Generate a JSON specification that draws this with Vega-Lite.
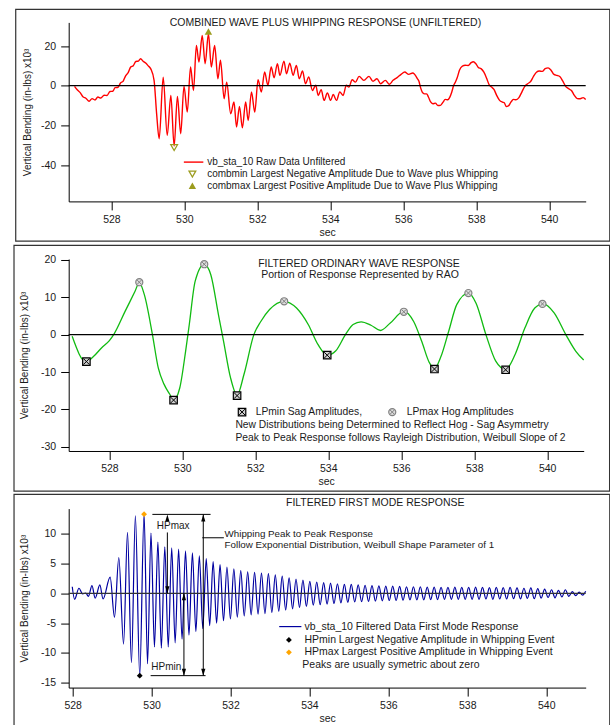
{
"$schema":"https://vega.github.io/schema/vega-lite/v6.json",
"padding":{"left":12.7,"top":8.4,"right":0,"bottom":0},
"background":"white",
"bounds":"flush",
"spacing":57.6,
"config":{
 "font":"Liberation Sans",
 "locale":{"number":{"decimal":".","thousands":",","grouping":[3],"currency":["$",""],"minus":"-"}},
 "view":{"stroke":null},
 "axis":{"grid":false,"labelOverlap":false,"labelBound":false,"tickCount":20,"domainColor":"#000000","tickColor":"#000000","labelColor":"#1a1a1a","titleColor":"#1a1a1a","labelFontSize":10.5,"titleFontSize":10.5,"titleFontWeight":"normal","tickSize":8,"labelPadding":5,"domainWidth":1,"tickWidth":1},
 "axisX":{"tickSize":8.5,"labelPadding":4.5,"titlePadding":2.5},
 "axisY":{"titleFontSize":10},
 "text":{"color":"#1a1a1a","fontSize":10.5}
},
"datasets":{
 "raw":[{"t":526.99,"v":-0.3},{"t":527.07,"v":-2.2},{"t":527.15,"v":-3.6},{"t":527.22,"v":-5.6},{"t":527.30,"v":-6.3},{"t":527.39,"v":-7.8},{"t":527.47,"v":-6.5},{"t":527.55,"v":-7.2},{"t":527.63,"v":-5.7},{"t":527.71,"v":-6.2},{"t":527.80,"v":-4.8},{"t":527.88,"v":-4.9},{"t":527.96,"v":-2.9},{"t":528.04,"v":-2.8},{"t":528.10,"v":-1.0},{"t":528.18,"v":-0.8},{"t":528.25,"v":1.4},{"t":528.32,"v":2.2},{"t":528.39,"v":5.0},{"t":528.46,"v":6.6},{"t":528.53,"v":9.4},{"t":528.60,"v":10.1},{"t":528.67,"v":12.2},{"t":528.74,"v":12.4},{"t":528.80,"v":13.6},{"t":528.87,"v":12.3},{"t":528.94,"v":11.4},{"t":529.01,"v":10.0},{"t":529.08,"v":8.5},{"t":529.17,"v":2.7},{"t":529.24,"v":-14.1},{"t":529.31,"v":-26.7},{"t":529.42,"v":4.3},{"t":529.53,"v":-25.0},{"t":529.63,"v":-4.9},{"t":529.72,"v":-30.4},{"t":529.81,"v":-5.4},{"t":529.90,"v":-24.2},{"t":529.99,"v":-0.2},{"t":530.08,"v":-13.3},{"t":530.17,"v":9.4},{"t":530.25,"v":-2.4},{"t":530.33,"v":20.3},{"t":530.40,"v":11.9},{"t":530.49,"v":25.3},{"t":530.57,"v":11.1},{"t":530.66,"v":26.2},{"t":530.74,"v":9.4},{"t":530.83,"v":20.3},{"t":530.92,"v":3.5},{"t":530.99,"v":12.8},{"t":531.09,"v":-6.6},{"t":531.16,"v":1.8},{"t":531.27,"v":-14.1},{"t":531.36,"v":-8.2},{"t":531.43,"v":-20.8},{"t":531.51,"v":-10.4},{"t":531.59,"v":-21.2},{"t":531.68,"v":-8.2},{"t":531.75,"v":-17.5},{"t":531.84,"v":-3.2},{"t":531.93,"v":-13.3},{"t":532.02,"v":3.0},{"t":532.11,"v":-3.2},{"t":532.20,"v":6.9},{"t":532.29,"v":0.2},{"t":532.38,"v":9.4},{"t":532.46,"v":4.0},{"t":532.55,"v":11.1},{"t":532.62,"v":5.2},{"t":532.73,"v":12.4},{"t":532.80,"v":6.0},{"t":532.89,"v":11.4},{"t":532.98,"v":5.2},{"t":533.07,"v":10.2},{"t":533.15,"v":3.5},{"t":533.24,"v":7.4},{"t":533.32,"v":1.0},{"t":533.41,"v":4.4},{"t":533.51,"v":-2.4},{"t":533.60,"v":0.2},{"t":533.67,"v":-4.9},{"t":533.75,"v":-2.0},{"t":533.83,"v":-7.4},{"t":533.92,"v":-3.7},{"t":534.01,"v":-7.4},{"t":534.08,"v":-4.4},{"t":534.17,"v":-7.4},{"t":534.26,"v":-3.2},{"t":534.35,"v":-4.9},{"t":534.44,"v":0.2},{"t":534.51,"v":-0.7},{"t":534.60,"v":3.0},{"t":534.69,"v":1.8},{"t":534.79,"v":4.7},{"t":534.92,"v":2.7},{"t":535.06,"v":4.7},{"t":535.17,"v":2.2},{"t":535.28,"v":3.5},{"t":535.38,"v":1.0},{"t":535.51,"v":2.7},{"t":535.62,"v":0.7},{"t":535.72,"v":2.7},{"t":535.83,"v":4.1},{"t":535.94,"v":5.7},{"t":536.04,"v":6.9},{"t":536.15,"v":5.7},{"t":536.26,"v":6.4},{"t":536.39,"v":3.5},{"t":536.43,"v":2.2},{"t":536.47,"v":-0.7},{"t":536.52,"v":-3.2},{"t":536.58,"v":-4.1},{"t":536.64,"v":-4.1},{"t":536.69,"v":-5.7},{"t":536.75,"v":-8.2},{"t":536.81,"v":-9.1},{"t":536.88,"v":-8.8},{"t":536.95,"v":-10.0},{"t":537.02,"v":-9.9},{"t":537.09,"v":-8.3},{"t":537.15,"v":-6.9},{"t":537.22,"v":-7.1},{"t":537.27,"v":-6.0},{"t":537.33,"v":-3.2},{"t":537.38,"v":0.1},{"t":537.43,"v":1.9},{"t":537.48,"v":4.1},{"t":537.54,"v":7.8},{"t":537.62,"v":9.9},{"t":537.70,"v":10.3},{"t":537.78,"v":10.2},{"t":537.86,"v":11.6},{"t":537.92,"v":12.1},{"t":537.99,"v":11.1},{"t":538.06,"v":9.1},{"t":538.13,"v":8.6},{"t":538.21,"v":6.8},{"t":538.29,"v":3.5},{"t":538.35,"v":0.6},{"t":538.42,"v":-0.7},{"t":538.49,"v":-2.0},{"t":538.56,"v":-4.9},{"t":538.64,"v":-7.4},{"t":538.72,"v":-8.3},{"t":538.77,"v":-8.6},{"t":538.82,"v":-10.5},{"t":538.88,"v":-10.2},{"t":538.95,"v":-8.3},{"t":539.02,"v":-6.9},{"t":539.09,"v":-7.1},{"t":539.17,"v":-6.0},{"t":539.25,"v":-3.2},{"t":539.33,"v":-0.3},{"t":539.41,"v":1.0},{"t":539.49,"v":2.1},{"t":539.57,"v":4.7},{"t":539.65,"v":6.8},{"t":539.73,"v":7.4},{"t":539.81,"v":7.2},{"t":539.89,"v":8.6},{"t":539.97,"v":9.0},{"t":540.05,"v":7.8},{"t":540.13,"v":5.7},{"t":540.21,"v":5.2},{"t":540.29,"v":4.6},{"t":540.37,"v":2.4},{"t":540.45,"v":-0.3},{"t":540.53,"v":-1.5},{"t":540.61,"v":-2.4},{"t":540.69,"v":-4.9},{"t":540.77,"v":-6.5},{"t":540.85,"v":-6.6},{"t":540.93,"v":-6.0},{"t":541.0,"v":-6.9}],
 "comb":[{"t":529.72,"v":-31.2,"k":"min"},{"t":530.66,"v":27.3,"k":"max"}],
 "wave":[{"t":526.98,"v":-0.45},{"t":527.36,"v":-7.3},{"t":527.57,"v":-5.8},{"t":527.79,"v":-3.5},{"t":528.0,"v":-1.6},{"t":528.13,"v":0.2},{"t":528.43,"v":6.2},{"t":528.7,"v":11.5},{"t":528.82,"v":13.9},{"t":528.96,"v":10.6},{"t":529.18,"v":0},{"t":529.34,"v":-8.9},{"t":529.5,"v":-13.3},{"t":529.66,"v":-16},{"t":529.76,"v":-17.5},{"t":529.93,"v":-14.2},{"t":530.09,"v":-4.4},{"t":530.19,"v":2.7},{"t":530.35,"v":14.2},{"t":530.6,"v":18.8},{"t":530.78,"v":16},{"t":530.99,"v":5.3},{"t":531.13,"v":-1.8},{"t":531.32,"v":-11.5},{"t":531.5,"v":-16.2},{"t":531.69,"v":-10.6},{"t":531.96,"v":0},{"t":532.15,"v":3.5},{"t":532.39,"v":6.7},{"t":532.79,"v":8.9},{"t":533.13,"v":7.1},{"t":533.45,"v":2.7},{"t":533.72,"v":-2.7},{"t":533.97,"v":-5.5},{"t":534.2,"v":-4.4},{"t":534.47,"v":0},{"t":534.68,"v":2.7},{"t":534.9,"v":3.4},{"t":535.17,"v":2.5},{"t":535.43,"v":1.1},{"t":535.7,"v":3.1},{"t":536.07,"v":6.2},{"t":536.34,"v":3.5},{"t":536.56,"v":-1.8},{"t":536.77,"v":-7.5},{"t":536.91,"v":-9.1},{"t":537.09,"v":-5.8},{"t":537.3,"v":0.9},{"t":537.52,"v":8},{"t":537.84,"v":11.1},{"t":538.05,"v":8.4},{"t":538.32,"v":0},{"t":538.59,"v":-7.1},{"t":538.86,"v":-9.3},{"t":539.12,"v":-5.3},{"t":539.39,"v":1.8},{"t":539.66,"v":7.1},{"t":539.89,"v":8.2},{"t":540.19,"v":5.8},{"t":540.51,"v":0},{"t":540.78,"v":-4.4},{"t":541.0,"v":-6.8}],
 "lpmin":[{"t":527.37,"v":-7.2},{"t":529.76,"v":-17.5},{"t":531.5,"v":-16.3},{"t":533.97,"v":-5.5},{"t":536.91,"v":-9.2},{"t":538.86,"v":-9.4}],
 "lpmax":[{"t":528.82,"v":14.0},{"t":530.6,"v":18.8},{"t":532.79,"v":8.9},{"t":536.07,"v":6.1},{"t":537.84,"v":11.1},{"t":539.87,"v":8.2}],
 "whip":[{"t":527.99,"v":1.1},{"t":528.05,"v":-1.0},{"t":528.16,"v":0.85},{"t":528.25,"v":-0.1},{"t":528.33,"v":0.05},{"t":528.40,"v":-0.5},{"t":528.49,"v":1.3},{"t":528.57,"v":-0.8},{"t":528.69,"v":1.4},{"t":528.77,"v":-0.95},{"t":528.95,"v":2.7},{"t":529.06,"v":-4.0},{"t":529.17,"v":6.0},{"t":529.29,"v":-8.5},{"t":529.39,"v":10.2},{"t":529.49,"v":-11.6},{"t":529.59,"v":13.0},{"t":529.70,"v":-13.8},{"t":529.81,"v":13.3},{"t":529.8975,"v":-11.8},{"t":529.985,"v":10.1},{"t":530.0725,"v":-9.0},{"t":530.16,"v":8.6},{"t":530.2475,"v":-9.2},{"t":530.335,"v":7.8},{"t":530.4225,"v":-9.0},{"t":530.51,"v":7.6},{"t":530.5975,"v":-8.3},{"t":530.685,"v":7.4},{"t":530.7725,"v":-7.7},{"t":530.86,"v":7.1},{"t":530.9475,"v":-7.0},{"t":531.035,"v":6.8},{"t":531.1225,"v":-6.4},{"t":531.21,"v":6.3},{"t":531.2975,"v":-5.9},{"t":531.385,"v":5.8},{"t":531.4725,"v":-5.4},{"t":531.56,"v":5.3},{"t":531.6475,"v":-5.0},{"t":531.735,"v":4.8},{"t":531.8225,"v":-4.6},{"t":531.91,"v":4.4},{"t":531.9975,"v":-4.3},{"t":532.085,"v":4.1},{"t":532.1725,"v":-4.0},{"t":532.26,"v":3.8},{"t":532.3475,"v":-3.8},{"t":532.435,"v":3.6},{"t":532.5225,"v":-3.6},{"t":532.61,"v":3.5},{"t":532.6975,"v":-3.5},{"t":532.785,"v":3.4},{"t":532.8725,"v":-3.4},{"t":532.96,"v":3.3},{"t":533.0475,"v":-3.2},{"t":533.135,"v":3.1},{"t":533.2225,"v":-3.0},{"t":533.31,"v":2.9},{"t":533.3975,"v":-2.8},{"t":533.485,"v":2.6},{"t":533.5725,"v":-2.6},{"t":533.66,"v":2.4},{"t":533.7475,"v":-2.4},{"t":533.835,"v":2.2},{"t":533.9225,"v":-2.2},{"t":534.01,"v":2.0},{"t":534.0975,"v":-2.0},{"t":534.185,"v":1.9},{"t":534.2725,"v":-1.9},{"t":534.36,"v":1.8},{"t":534.4475,"v":-1.8},{"t":534.535,"v":1.7},{"t":534.6225,"v":-1.7},{"t":534.71,"v":1.6},{"t":534.7975,"v":-1.6},{"t":534.885,"v":1.5},{"t":534.9725,"v":-1.5},{"t":535.06,"v":1.5},{"t":535.1475,"v":-1.45},{"t":535.235,"v":1.4},{"t":535.3225,"v":-1.4},{"t":535.41,"v":1.35},{"t":535.4975,"v":-1.35},{"t":535.585,"v":1.3},{"t":535.6725,"v":-1.3},{"t":535.76,"v":1.25},{"t":535.8475,"v":-1.25},{"t":535.935,"v":1.2},{"t":536.0225,"v":-1.2},{"t":536.11,"v":1.2},{"t":536.1975,"v":-1.2},{"t":536.285,"v":1.15},{"t":536.3725,"v":-1.15},{"t":536.46,"v":1.1},{"t":536.5475,"v":-1.1},{"t":536.635,"v":1.1},{"t":536.7225,"v":-1.1},{"t":536.81,"v":1.1},{"t":536.8975,"v":-1.1},{"t":536.985,"v":1.05},{"t":537.0725,"v":-1.05},{"t":537.16,"v":1.05},{"t":537.2475,"v":-1.05},{"t":537.335,"v":1.0},{"t":537.4225,"v":-1.0},{"t":537.51,"v":1.0},{"t":537.5975,"v":-1.0},{"t":537.685,"v":1.05},{"t":537.7725,"v":-1.0},{"t":537.86,"v":1.0},{"t":537.9475,"v":-1.0},{"t":538.035,"v":1.0},{"t":538.1225,"v":-1.0},{"t":538.21,"v":1.05},{"t":538.2975,"v":-1.0},{"t":538.385,"v":1.0},{"t":538.4725,"v":-0.95},{"t":538.56,"v":0.95},{"t":538.6475,"v":-1.0},{"t":538.735,"v":1.0},{"t":538.8225,"v":-0.95},{"t":538.91,"v":0.95},{"t":538.9975,"v":-0.95},{"t":539.085,"v":1.0},{"t":539.1725,"v":-0.9},{"t":539.26,"v":0.9},{"t":539.3475,"v":-0.95},{"t":539.435,"v":0.85},{"t":539.5225,"v":-0.85},{"t":539.61,"v":0.9},{"t":539.6975,"v":-0.9},{"t":539.785,"v":0.8},{"t":539.8725,"v":-0.8},{"t":539.96,"v":0.7},{"t":540.0475,"v":-0.7},{"t":540.135,"v":0.6},{"t":540.2225,"v":-0.75},{"t":540.31,"v":0.5},{"t":540.3975,"v":-0.6},{"t":540.485,"v":0.6},{"t":540.5725,"v":-0.5},{"t":540.66,"v":0.3},{"t":540.7475,"v":-0.4},{"t":540.835,"v":0.2},{"t":540.9225,"v":-0.3},{"t":541.0,"v":0.35}],
 "hp":[{"t":529.70,"v":-13.8,"k":"min"},{"t":529.81,"v":13.27,"k":"max"}]
},
"vconcat":[
{
 "width":517,"height":179,
 "data":{"values":[{}]},
 "layer":[
  {"data":{"name":"raw"},"mark":{"type":"line","color":"#ff0000","strokeWidth":1.4,"interpolate":"monotone"},
   "encoding":{"x":{"field":"t","type":"quantitative","scale":{"domain":[526.83,541.0],"nice":false,"zero":false},"axis":{"values":[528,530,532,534,536,538,540],"tickCount":20,"title":"sec","format":"d","labelOverlap":false}},
    "y":{"field":"v","type":"quantitative","scale":{"domain":[-58.3,31.9],"nice":false,"zero":false},"axis":{"values":[-40,-20,0,20],"tickCount":20,"title":"Vertical Bending (in-lbs) x10³","titlePadding":8,"format":"d","labelOverlap":false}}}},
  {"mark":{"type":"rect","filled":false,"stroke":"#333333","strokeWidth":1.2,"clip":false},
   "encoding":{"x":{"datum":525.378,"type":"quantitative"},"x2":{"datum":541.66},"y":{"datum":38.45,"type":"quantitative"},"y2":{"datum":-78.3}}},
  {"mark":{"type":"rule","color":"#000000","strokeWidth":1.2},"encoding":{"y":{"datum":0,"type":"quantitative"}}},
  {"data":{"name":"comb"},"transform":[{"filter":"datum.k==='min'"}],"mark":{"type":"point","shape":"triangle-down","filled":false,"stroke":"#9c9c1e","strokeWidth":1.3,"size":45,"opacity":1},
   "encoding":{"x":{"field":"t","type":"quantitative"},"y":{"field":"v","type":"quantitative"}}},
  {"data":{"name":"comb"},"transform":[{"filter":"datum.k==='max'"}],"mark":{"type":"point","shape":"triangle-up","filled":true,"color":"#9c9c1e","size":55,"opacity":1},
   "encoding":{"x":{"field":"t","type":"quantitative"},"y":{"field":"v","type":"quantitative"}}},
  {"mark":{"type":"text","align":"center","baseline":"middle","fontSize":10.5,"text":"COMBINED WAVE PLUS WHIPPING RESPONSE (UNFILTERED)","clip":false},
   "encoding":{"x":{"datum":533.866,"type":"quantitative"},"y":{"datum":31.55,"type":"quantitative"}}},
  {"mark":{"type":"rule","color":"#ff0000","strokeWidth":1.4},
   "encoding":{"x":{"datum":529.986,"type":"quantitative"},"x2":{"datum":530.52},"y":{"datum":-38.5,"type":"quantitative"}}},
  {"mark":{"type":"text","align":"left","baseline":"middle","fontSize":10,"text":"vb_sta_10 Raw Data Unfiltered"},
   "encoding":{"x":{"datum":530.625,"type":"quantitative"},"y":{"datum":-38.5,"type":"quantitative"}}},
  {"mark":{"type":"point","shape":"triangle-down","filled":false,"stroke":"#9c9c1e","strokeWidth":1.3,"size":45,"opacity":1},
   "encoding":{"x":{"datum":530.22,"type":"quantitative"},"y":{"datum":-44.54,"type":"quantitative"}}},
  {"mark":{"type":"text","align":"left","baseline":"middle","fontSize":10,"text":"combmin Largest Negative Amplitude Due to Wave plus Whipping"},
   "encoding":{"x":{"datum":530.625,"type":"quantitative"},"y":{"datum":-44.54,"type":"quantitative"}}},
  {"mark":{"type":"point","shape":"triangle-up","filled":true,"color":"#9c9c1e","size":55,"opacity":1},
   "encoding":{"x":{"datum":530.22,"type":"quantitative"},"y":{"datum":-50.39,"type":"quantitative"}}},
  {"mark":{"type":"text","align":"left","baseline":"middle","fontSize":10,"text":"combmax Largest Positive Amplitude Due to Wave Plus Whipping"},
   "encoding":{"x":{"datum":530.625,"type":"quantitative"},"y":{"datum":-50.39,"type":"quantitative"}}}
 ]
},
{
 "width":515,"height":192,
 "data":{"values":[{}]},
 "layer":[
  {"data":{"name":"wave"},"mark":{"type":"line","color":"#11bb11","strokeWidth":1.3,"interpolate":"monotone"},
   "encoding":{"x":{"field":"t","type":"quantitative","scale":{"domain":[526.885,541.0],"nice":false,"zero":false},"axis":{"values":[528,530,532,534,536,538,540],"tickCount":20,"title":"sec","format":"d","labelOverlap":false}},
    "y":{"field":"v","type":"quantitative","scale":{"domain":[-31.1,20.2],"nice":false,"zero":false},"axis":{"values":[-30,-20,-10,0,10,20],"tickCount":20,"title":"Vertical Bending (in-lbs) x10³","titlePadding":11.5,"format":"d","labelOverlap":false}}}},
  {"mark":{"type":"rect","filled":false,"stroke":"#333333","strokeWidth":1.2,"clip":false},
   "encoding":{"x":{"datum":525.386,"type":"quantitative"},"x2":{"datum":541.71},"y":{"datum":23.83,"type":"quantitative"},"y2":{"datum":-41.8}}},
  {"mark":{"type":"rule","color":"#000000","strokeWidth":1.2},"encoding":{"y":{"datum":0,"type":"quantitative"}}},
  {"data":{"name":"lpmin"},"mark":{"type":"point","shape":"square","filled":true,"fill":"#d0d0d0","stroke":"#000000","strokeWidth":1.2,"size":56,"opacity":1},
   "encoding":{"x":{"field":"t","type":"quantitative"},"y":{"field":"v","type":"quantitative"}}},
  {"data":{"name":"lpmin"},"mark":{"type":"point","shape":"M-0.8,-0.8L0.8,0.8M-0.8,0.8L0.8,-0.8","filled":false,"stroke":"#000000","strokeWidth":1,"size":56,"opacity":1},
   "encoding":{"x":{"field":"t","type":"quantitative"},"y":{"field":"v","type":"quantitative"}}},
  {"data":{"name":"lpmax"},"mark":{"type":"point","shape":"circle","filled":true,"fill":"#dddddd","stroke":"#808080","strokeWidth":1.2,"size":50,"opacity":1},
   "encoding":{"x":{"field":"t","type":"quantitative"},"y":{"field":"v","type":"quantitative"}}},
  {"data":{"name":"lpmax"},"mark":{"type":"point","shape":"M-0.6,-0.6L0.6,0.6M-0.6,0.6L0.6,-0.6","filled":false,"stroke":"#808080","strokeWidth":1,"size":50,"opacity":1},
   "encoding":{"x":{"field":"t","type":"quantitative"},"y":{"field":"v","type":"quantitative"}}},
  {"mark":{"type":"text","align":"center","baseline":"middle","fontSize":10.5,"text":"FILTERED ORDINARY WAVE RESPONSE"},
   "encoding":{"x":{"datum":534.84,"type":"quantitative"},"y":{"datum":18.94,"type":"quantitative"}}},
  {"mark":{"type":"text","align":"center","baseline":"middle","fontSize":10.5,"text":"Portion of Response Represented by RAO"},
   "encoding":{"x":{"datum":534.87,"type":"quantitative"},"y":{"datum":15.82,"type":"quantitative"}}},
  {"mark":{"type":"point","shape":"square","filled":true,"fill":"#d0d0d0","stroke":"#000000","strokeWidth":1.2,"size":56,"opacity":1},
   "encoding":{"x":{"datum":531.636,"type":"quantitative"},"y":{"datum":-20.7,"type":"quantitative"}}},
  {"mark":{"type":"point","shape":"M-0.8,-0.8L0.8,0.8M-0.8,0.8L0.8,-0.8","filled":false,"stroke":"#000000","strokeWidth":1,"size":56,"opacity":1},
   "encoding":{"x":{"datum":531.636,"type":"quantitative"},"y":{"datum":-20.7,"type":"quantitative"}}},
  {"mark":{"type":"text","align":"left","baseline":"middle","fontSize":10.3,"text":"LPmin Sag Amplitudes,"},
   "encoding":{"x":{"datum":532.011,"type":"quantitative"},"y":{"datum":-20.7,"type":"quantitative"}}},
  {"mark":{"type":"point","shape":"circle","filled":true,"fill":"#dddddd","stroke":"#808080","strokeWidth":1.2,"size":50,"opacity":1},
   "encoding":{"x":{"datum":535.753,"type":"quantitative"},"y":{"datum":-20.7,"type":"quantitative"}}},
  {"mark":{"type":"point","shape":"M-0.6,-0.6L0.6,0.6M-0.6,0.6L0.6,-0.6","filled":false,"stroke":"#808080","strokeWidth":1,"size":50,"opacity":1},
   "encoding":{"x":{"datum":535.753,"type":"quantitative"},"y":{"datum":-20.7,"type":"quantitative"}}},
  {"mark":{"type":"text","align":"left","baseline":"middle","fontSize":10.3,"text":"LPmax Hog Amplitudes"},
   "encoding":{"x":{"datum":536.15,"type":"quantitative"},"y":{"datum":-20.7,"type":"quantitative"}}},
  {"mark":{"type":"text","align":"left","baseline":"middle","fontSize":10.3,"text":"New Distributions being Determined to Reflect Hog - Sag Asymmetry"},
   "encoding":{"x":{"datum":531.455,"type":"quantitative"},"y":{"datum":-24.07,"type":"quantitative"}}},
  {"mark":{"type":"text","align":"left","baseline":"middle","fontSize":10.3,"text":"Peak to Peak Response follows Rayleigh Distribution, Weibull Slope of 2"},
   "encoding":{"x":{"datum":531.455,"type":"quantitative"},"y":{"datum":-27.54,"type":"quantitative"}}}
 ]
},
{
 "width":517,"height":179,
 "data":{"values":[{}]},
 "layer":[
  {"data":{"name":"whip"},"mark":{"type":"line","color":"#0000a0","strokeWidth":1.2,"interpolate":"monotone"},
   "encoding":{"x":{"field":"t","type":"quantitative","scale":{"domain":[527.9,541.0],"nice":false,"zero":false},"axis":{"values":[528,530,532,534,536,538,540],"tickCount":20,"title":"sec","format":"d","labelOverlap":false}},
    "y":{"field":"v","type":"quantitative","scale":{"domain":[-15.8,14.2],"nice":false,"zero":false},"axis":{"values":[-15,-10,-5,0,5,10],"tickCount":20,"title":"Vertical Bending (in-lbs) x10³","titlePadding":11.5,"format":"d","labelOverlap":false}}}},
  {"mark":{"type":"rect","filled":false,"stroke":"#333333","strokeWidth":1.2,"clip":false},
   "encoding":{"x":{"datum":526.515,"type":"quantitative"},"x2":{"datum":541.61},"y":{"datum":16.58,"type":"quantitative"},"y2":{"datum":-22.5}}},
  {"mark":{"type":"rule","color":"#333333","strokeWidth":1.2},"encoding":{"y":{"datum":0,"type":"quantitative"}}},
  {"data":{"name":"hp"},"transform":[{"filter":"datum.k==='min'"}],"mark":{"type":"point","shape":"diamond","filled":true,"color":"#000000","size":34,"opacity":1},
   "encoding":{"x":{"field":"t","type":"quantitative"},"y":{"field":"v","type":"quantitative"}}},
  {"data":{"name":"hp"},"transform":[{"filter":"datum.k==='max'"}],"mark":{"type":"point","shape":"diamond","filled":true,"color":"#ffa500","size":34,"opacity":1},
   "encoding":{"x":{"field":"t","type":"quantitative"},"y":{"field":"v","type":"quantitative"}}},
  {"mark":{"type":"rule","color":"#000000","strokeWidth":1},
   "encoding":{"x":{"datum":530.02,"type":"quantitative"},"x2":{"datum":531.495},"y":{"datum":13.23,"type":"quantitative"}}},
  {"mark":{"type":"rule","color":"#000000","strokeWidth":1},
   "encoding":{"x":{"datum":529.976,"type":"quantitative"},"x2":{"datum":531.368},"y":{"datum":-13.8,"type":"quantitative"}}},
  {"mark":{"type":"rule","color":"#000000","strokeWidth":1},
   "encoding":{"x":{"datum":530.40,"type":"quantitative"},"y":{"datum":10.2,"type":"quantitative"},"y2":{"datum":0}}},
  {"mark":{"type":"rule","color":"#000000","strokeWidth":1},
   "encoding":{"x":{"datum":530.82,"type":"quantitative"},"y":{"datum":0,"type":"quantitative"},"y2":{"datum":-13.8}}},
  {"mark":{"type":"rule","color":"#000000","strokeWidth":1},
   "encoding":{"x":{"datum":531.31,"type":"quantitative"},"y":{"datum":13.23,"type":"quantitative"},"y2":{"datum":-13.8}}},
  {"mark":{"type":"rule","color":"#000000","strokeWidth":1},
   "encoding":{"x":{"datum":531.285,"type":"quantitative"},"x2":{"datum":531.832},"y":{"datum":9.31,"type":"quantitative"}}},
  {"mark":{"type":"point","shape":"M0,0L-0.3,1L0.3,1Z","filled":true,"color":"#000000","size":196,"opacity":1,"strokeWidth":0},
   "encoding":{"x":{"datum":530.40,"type":"quantitative"},"y":{"datum":13.23,"type":"quantitative"}}},
  {"mark":{"type":"point","shape":"M0,0L-0.3,-1L0.3,-1Z","filled":true,"color":"#000000","size":196,"opacity":1,"strokeWidth":0},
   "encoding":{"x":{"datum":530.40,"type":"quantitative"},"y":{"datum":0,"type":"quantitative"}}},
  {"mark":{"type":"point","shape":"M0,0L-0.3,1L0.3,1Z","filled":true,"color":"#000000","size":196,"opacity":1,"strokeWidth":0},
   "encoding":{"x":{"datum":530.82,"type":"quantitative"},"y":{"datum":0,"type":"quantitative"}}},
  {"mark":{"type":"point","shape":"M0,0L-0.3,-1L0.3,-1Z","filled":true,"color":"#000000","size":196,"opacity":1,"strokeWidth":0},
   "encoding":{"x":{"datum":530.82,"type":"quantitative"},"y":{"datum":-13.8,"type":"quantitative"}}},
  {"mark":{"type":"point","shape":"M0,0L-0.3,1L0.3,1Z","filled":true,"color":"#000000","size":196,"opacity":1,"strokeWidth":0},
   "encoding":{"x":{"datum":531.31,"type":"quantitative"},"y":{"datum":13.23,"type":"quantitative"}}},
  {"mark":{"type":"point","shape":"M0,0L-0.3,-1L0.3,-1Z","filled":true,"color":"#000000","size":196,"opacity":1,"strokeWidth":0},
   "encoding":{"x":{"datum":531.31,"type":"quantitative"},"y":{"datum":-13.8,"type":"quantitative"}}},
  {"mark":{"type":"text","align":"center","baseline":"middle","fontSize":10,"text":"HPmax"},
   "encoding":{"x":{"datum":530.546,"type":"quantitative"},"y":{"datum":11.21,"type":"quantitative"}}},
  {"mark":{"type":"text","align":"center","baseline":"middle","fontSize":10,"text":"HPmin"},
   "encoding":{"x":{"datum":530.373,"type":"quantitative"},"y":{"datum":-12.41,"type":"quantitative"}}},
  {"mark":{"type":"text","align":"left","baseline":"middle","fontSize":9.8,"text":"Whipping Peak to Peak Response"},
   "encoding":{"x":{"datum":531.85,"type":"quantitative"},"y":{"datum":9.99,"type":"quantitative"}}},
  {"mark":{"type":"text","align":"left","baseline":"middle","fontSize":9.8,"text":"Follow Exponential Distribution, Weibull Shape Parameter of 1"},
   "encoding":{"x":{"datum":531.85,"type":"quantitative"},"y":{"datum":8.14,"type":"quantitative"}}},
  {"mark":{"type":"text","align":"center","baseline":"middle","fontSize":10.5,"text":"FILTERED FIRST MODE RESPONSE","clip":false},
   "encoding":{"x":{"datum":535.667,"type":"quantitative"},"y":{"datum":15.12,"type":"quantitative"}}},
  {"mark":{"type":"rule","color":"#0000a0","strokeWidth":1.2},
   "encoding":{"x":{"datum":533.234,"type":"quantitative"},"x2":{"datum":533.796},"y":{"datum":-5.575,"type":"quantitative"}}},
  {"mark":{"type":"text","align":"left","baseline":"middle","fontSize":10.5,"text":"vb_sta_10 Filtered Data First Mode Response"},
   "encoding":{"x":{"datum":533.875,"type":"quantitative"},"y":{"datum":-5.575,"type":"quantitative"}}},
  {"mark":{"type":"point","shape":"diamond","filled":true,"color":"#000000","size":34,"opacity":1},
   "encoding":{"x":{"datum":533.48,"type":"quantitative"},"y":{"datum":-7.81,"type":"quantitative"}}},
  {"mark":{"type":"text","align":"left","baseline":"middle","fontSize":10.5,"text":"HPmin Largest Negative Amplitude in Whipping Event"},
   "encoding":{"x":{"datum":533.875,"type":"quantitative"},"y":{"datum":-7.81,"type":"quantitative"}}},
  {"mark":{"type":"point","shape":"diamond","filled":true,"color":"#ffa500","size":34,"opacity":1},
   "encoding":{"x":{"datum":533.48,"type":"quantitative"},"y":{"datum":-9.89,"type":"quantitative"}}},
  {"mark":{"type":"text","align":"left","baseline":"middle","fontSize":10.5,"text":"HPmax Largest Positive Amplitude in Whipping Event"},
   "encoding":{"x":{"datum":533.875,"type":"quantitative"},"y":{"datum":-9.89,"type":"quantitative"}}},
  {"mark":{"type":"text","align":"left","baseline":"middle","fontSize":10.5,"text":"Peaks are usually symetric about zero"},
   "encoding":{"x":{"datum":533.82,"type":"quantitative"},"y":{"datum":-12.0,"type":"quantitative"}}}
 ]
}
]
}
